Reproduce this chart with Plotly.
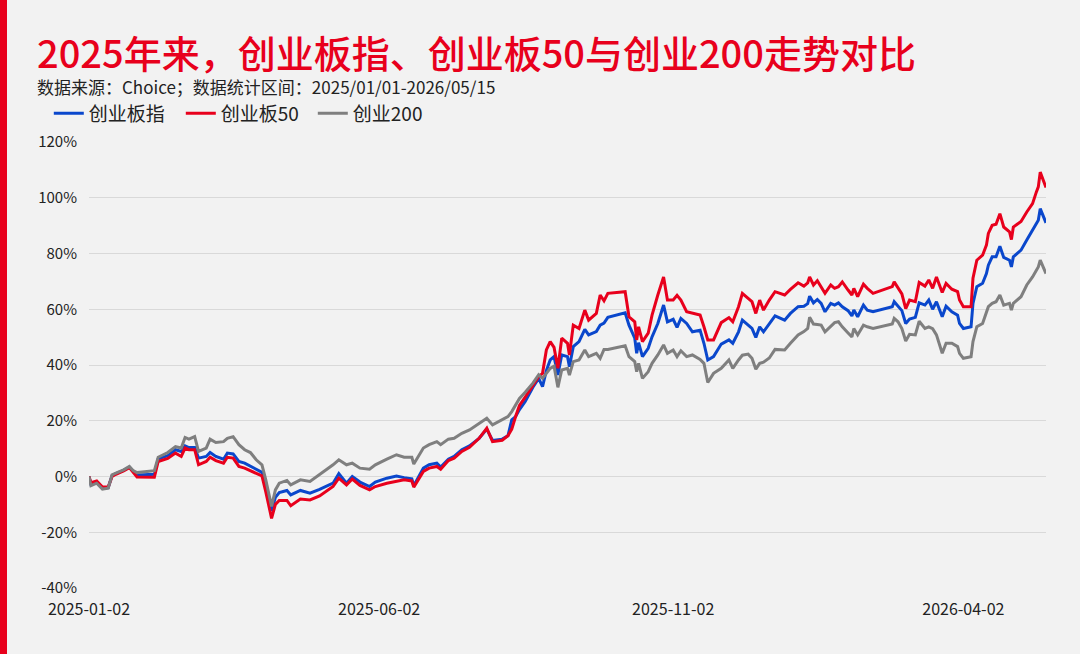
import plotly.graph_objects as go

##### datos (rentabilidad acumulada, %) #####
dates = [
    "2025-01-02", "2025-01-03", "2025-01-06", "2025-01-09", "2025-01-12", "2025-01-14", "2025-01-16",
    "2025-01-20", "2025-01-23", "2025-01-25", "2025-01-27", "2025-02-05", "2025-02-07", "2025-02-12",
    "2025-02-16", "2025-02-19", "2025-02-21", "2025-02-23", "2025-02-26", "2025-02-28", "2025-03-04",
    "2025-03-06", "2025-03-09", "2025-03-13", "2025-03-15", "2025-03-18", "2025-03-21", "2025-03-24",
    "2025-03-27", "2025-03-30", "2025-04-02", "2025-04-04", "2025-04-07", "2025-04-09", "2025-04-11",
    "2025-04-15", "2025-04-17", "2025-04-22", "2025-04-27", "2025-05-02", "2025-05-09", "2025-05-12",
    "2025-05-16", "2025-05-19", "2025-05-23", "2025-05-28", "2025-05-31", "2025-06-06", "2025-06-11",
    "2025-06-15", "2025-06-19", "2025-06-20", "2025-06-25", "2025-06-28", "2025-07-02", "2025-07-04",
    "2025-07-08", "2025-07-11", "2025-07-15", "2025-07-19", "2025-07-24", "2025-07-28", "2025-07-31",
    "2025-08-05", "2025-08-08", "2025-08-10", "2025-08-12", "2025-08-14", "2025-08-17", "2025-08-21",
    "2025-08-24", "2025-08-26", "2025-08-28", "2025-08-30", "2025-09-01", "2025-09-03", "2025-09-05",
    "2025-09-08", "2025-09-09", "2025-09-11", "2025-09-14", "2025-09-17", "2025-09-19", "2025-09-23",
    "2025-09-25", "2025-09-27", "2025-09-29", "2025-10-08", "2025-10-10", "2025-10-13", "2025-10-14",
    "2025-10-15", "2025-10-17", "2025-10-20", "2025-10-22", "2025-10-25", "2025-10-28", "2025-10-30",
    "2025-11-02", "2025-11-04", "2025-11-06", "2025-11-09", "2025-11-12", "2025-11-16", "2025-11-18",
    "2025-11-20", "2025-11-23", "2025-11-27", "2025-12-01", "2025-12-03", "2025-12-06", "2025-12-08",
    "2025-12-11", "2025-12-13", "2025-12-15", "2025-12-17", "2025-12-19", "2025-12-22", "2025-12-25",
    "2025-12-30", "2026-01-02", "2026-01-06", "2026-01-09", "2026-01-11", "2026-01-12", "2026-01-14",
    "2026-01-16", "2026-01-18", "2026-01-20", "2026-01-23", "2026-01-25", "2026-01-27", "2026-01-29",
    "2026-02-01", "2026-02-03", "2026-02-04", "2026-02-06", "2026-02-09", "2026-02-11", "2026-02-14",
    "2026-02-24", "2026-02-25", "2026-02-27", "2026-03-01", "2026-03-03", "2026-03-05", "2026-03-08",
    "2026-03-10", "2026-03-13", "2026-03-15", "2026-03-17", "2026-03-19", "2026-03-22", "2026-03-24",
    "2026-03-27", "2026-03-30", "2026-03-31", "2026-04-02", "2026-04-06", "2026-04-07", "2026-04-09",
    "2026-04-12", "2026-04-14", "2026-04-15", "2026-04-17", "2026-04-19", "2026-04-21", "2026-04-23",
    "2026-04-26", "2026-04-27", "2026-04-28", "2026-05-02", "2026-05-05", "2026-05-08", "2026-05-10",
    "2026-05-11", "2026-05-12", "2026-05-14", "2026-05-15",
]

# 创业板指
cyb = [
    0, -2.8, -2.0, -4.2, -4.0, 0.3, 1.0, 2.2, 3.4, 1.8, 0.5, 0.8, 6.3, 7.5, 9.6, 9.0, 11.0, 10.4, 10.4, 6.6,
    7.2, 8.6, 7.2, 6.2, 8.4, 8.1, 5.4, 4.8, 3.6, 2.4, 1.5, -3.5, -12.3, -7.5, -5.8, -5.0, -6.6, -5.0, -6.0, -4.6,
    -2.4, 1.0, -2.4, 0.0, -2.0, -3.6, -2.0, -0.6, 0.2, -0.4, -0.8, -3.3, 3.0, 4.2, 4.8, 3.4, 6.2, 7.2, 9.6, 11.0,
    13.7, 17.0, 12.9, 13.4, 14.6, 20.3, 21.5, 24.0, 26.9, 32.0, 35.2, 32.2, 38.0, 41.8, 43.0, 36.4, 43.6, 43.0, 39.4, 46.6,
    48.4, 52.8, 50.8, 52.0, 54.3, 55.0, 57.1, 58.7, 54.3, 49.6, 44.2, 48.0, 43.0, 46.0, 50.1, 54.9, 61.5, 55.5, 56.4, 53.5,
    56.7, 54.9, 51.9, 52.5, 47.8, 41.8, 43.0, 47.5, 49.0, 47.8, 51.9, 56.1, 54.3, 53.1, 49.9, 53.7, 51.9, 54.9, 57.6, 56.1,
    58.5, 60.9, 61.1, 62.0, 64.7, 62.3, 63.5, 62.1, 59.1, 62.1, 61.5, 62.3, 60.9, 59.5, 57.6, 59.7, 57.3, 61.5, 59.7, 59.1,
    60.9, 62.7, 60.9, 59.5, 54.9, 56.5, 57.1, 62.3, 61.5, 63.3, 60.0, 62.7, 57.3, 61.1, 59.1, 57.9, 54.9, 53.1, 53.7, 62.1,
    68.1, 69.3, 72.8, 75.8, 78.8, 78.8, 82.6, 78.6, 77.6, 75.2, 78.8, 81.2, 84.8, 88.4, 90.8, 91.9, 96.1, 92.5, 91.0,
]

# 创业板50
cyb50 = [
    0, -2.2, -1.6, -3.8, -3.8, 0.0, 0.8, 2.0, 3.2, 1.5, -0.2, -0.3, 5.4, 6.5, 8.4, 7.2, 10.2, 9.6, 9.6, 4.2,
    5.4, 6.9, 5.7, 4.8, 6.9, 6.6, 3.6, 3.0, 2.1, 1.2, 0.2, -5.5, -15.0, -10.0, -8.6, -8.6, -10.5, -8.1, -8.4, -7.0,
    -3.6, -0.6, -3.0, -0.9, -3.2, -4.8, -3.6, -2.4, -1.8, -1.2, -1.6, -3.8, 1.8, 3.0, 3.6, 2.6, 5.7, 6.6, 9.0, 10.5,
    13.7, 17.3, 12.5, 13.0, 14.6, 17.0, 21.5, 25.5, 28.5, 32.5, 35.8, 37.0, 45.4, 48.4, 46.3, 38.8, 49.6, 47.8, 43.6, 54.3,
    53.1, 59.7, 56.1, 58.5, 65.1, 63.0, 65.7, 66.3, 57.3, 55.5, 49.0, 53.7, 48.4, 51.4, 57.9, 65.1, 71.6, 63.3, 63.3, 65.0,
    63.3, 59.1, 58.5, 57.9, 53.7, 49.0, 49.0, 55.2, 57.0, 55.5, 60.9, 65.7, 63.9, 62.7, 58.5, 63.3, 59.7, 63.3, 66.3, 65.1,
    67.1, 69.5, 68.3, 69.5, 71.6, 68.7, 70.2, 68.1, 65.7, 68.7, 67.5, 68.1, 69.8, 66.9, 65.1, 67.5, 64.5, 69.0, 67.5, 65.7,
    68.1, 69.8, 67.5, 65.5, 60.2, 63.3, 62.7, 69.6, 68.3, 70.5, 67.5, 71.6, 66.0, 69.3, 67.2, 66.3, 63.3, 60.9, 60.9, 71.1,
    77.6, 79.4, 83.0, 87.2, 90.1, 90.5, 94.3, 89.5, 87.8, 85.0, 89.5, 91.5, 94.9, 97.9, 102.1, 103.9, 109.2, 105.3, 103.7,
]

# 创业200
cy200 = [
    0, -3.3, -2.4, -4.5, -4.2, 0.6, 1.2, 2.4, 3.6, 2.1, 1.4, 2.1, 6.9, 8.6, 10.7, 10.2, 14.0, 13.4, 14.3, 9.0,
    10.2, 13.4, 12.2, 12.5, 13.7, 14.3, 11.4, 9.6, 8.6, 6.0, 4.2, -1.2, -10.7, -4.8, -2.4, -1.4, -3.0, -1.2, -1.8, 0.6,
    4.2, 6.0, 4.2, 4.8, 3.0, 2.6, 4.2, 6.2, 7.8, 6.9, 6.9, 4.5, 10.2, 11.4, 12.5, 11.4, 13.4, 13.7, 15.5, 16.7,
    18.9, 20.9, 18.5, 20.3, 21.5, 23.3, 25.5, 28.0, 30.2, 33.5, 36.5, 35.2, 37.0, 38.8, 39.6, 32.0, 38.2, 38.8, 36.4, 41.2,
    41.8, 45.4, 43.0, 44.2, 42.4, 45.6, 45.6, 46.9, 43.0, 41.2, 37.6, 40.6, 35.2, 37.6, 40.6, 43.6, 47.2, 44.2, 45.4, 43.0,
    45.1, 43.0, 43.6, 42.0, 40.6, 33.7, 37.0, 38.8, 41.8, 38.8, 41.8, 43.5, 43.9, 42.4, 38.5, 40.6, 41.0, 42.5, 45.6, 45.4,
    47.8, 50.8, 52.0, 53.1, 57.1, 54.7, 54.5, 54.3, 51.9, 54.0, 55.2, 55.5, 53.7, 51.5, 50.1, 53.1, 50.8, 54.3, 53.7, 53.1,
    54.7, 56.7, 55.5, 53.1, 48.6, 51.0, 50.8, 55.7, 53.1, 53.7, 53.0, 50.8, 44.2, 47.8, 47.8, 46.6, 44.2, 42.4, 43.0, 48.4,
    53.7, 54.9, 58.5, 60.9, 62.1, 62.7, 65.1, 61.5, 62.1, 59.7, 62.1, 64.5, 68.7, 71.6, 74.0, 75.2, 77.6, 74.0, 72.8,
]

x_ticks = ["2025-01-02", "2025-06-02", "2025-11-02", "2026-04-02"]
y_ticks = [-40, -20, 0, 20, 40, 60, 80, 100, 120]
y_labels = [f"{v}%" for v in y_ticks]

## colores
rojo = "#E8001C"
azul = "#0A47CC"
gris = "#7F7F7F"
fondo = "#F2F2F2"
fuente = "Noto Sans CJK SC"

fig = go.Figure()
fig.add_trace(go.Scatter(x=dates, y=cyb, mode="lines", name="创业板指", line=dict(color=azul, width=3)))
fig.add_trace(go.Scatter(x=dates, y=cyb50, mode="lines", name="创业板50", line=dict(color=rojo, width=3)))
fig.add_trace(go.Scatter(x=dates, y=cy200, mode="lines", name="创业200", line=dict(color=gris, width=3)))

fig.update_layout(
    width=1080, height=654,
    paper_bgcolor=fondo, plot_bgcolor=fondo,
    margin=dict(l=89, r=34, t=142, b=66),
    font=dict(family=fuente, size=17, color="#222222"),
    title=dict(text="2025年来，创业板指、创业板50与创业200走势对比",
               xref="container", x=37 / 1080, xanchor="left",
               yref="container", y=1 - 55 / 654, yanchor="middle",
               font=dict(family=fuente, size=38, color=rojo, weight=500)),
    legend=dict(orientation="h", x=-0.042, xanchor="left", y=1.064, yanchor="middle",
                font=dict(size=19), bgcolor="rgba(0,0,0,0)", traceorder="normal",
                entrywidth=87, entrywidthmode="pixels"),
    showlegend=True,
)

fig.add_annotation(text="数据来源：Choice；数据统计区间：2025/01/01-2026/05/15",
                   xref="paper", yref="paper", x=-0.0565, y=1.124,
                   xanchor="left", yanchor="middle", showarrow=False,
                   font=dict(family=fuente, size=17, color="#222222"))

# barra roja a la izquierda
fig.add_shape(type="rect", xref="paper", yref="paper",
              x0=-89 / 957, x1=-82 / 957, y0=-66 / 446, y1=588 / 446,
              fillcolor=rojo, line=dict(width=0), layer="above")

fig.update_xaxes(type="date", range=["2025-01-02", "2026-05-15"],
                 tickvals=x_ticks, ticktext=x_ticks, showgrid=False, zeroline=False,
                 showline=False, ticks="outside", ticklen=7, tickcolor="rgba(0,0,0,0)",
                 tickfont=dict(size=16))
fig.update_yaxes(range=[-40, 120], tickvals=y_ticks, ticktext=y_labels,
                 showgrid=True, gridcolor="#D9D9D9", gridwidth=1, zeroline=False,
                 showline=False, ticks="outside", ticklen=8, tickcolor="rgba(0,0,0,0)",
                 tickfont=dict(size=15))

# quitar el margen del body para que la figura ocupe toda la ventana
fig.write_html("out.html", config={"displayModeBar": False},
               post_script="document.body.style.margin='0';")
